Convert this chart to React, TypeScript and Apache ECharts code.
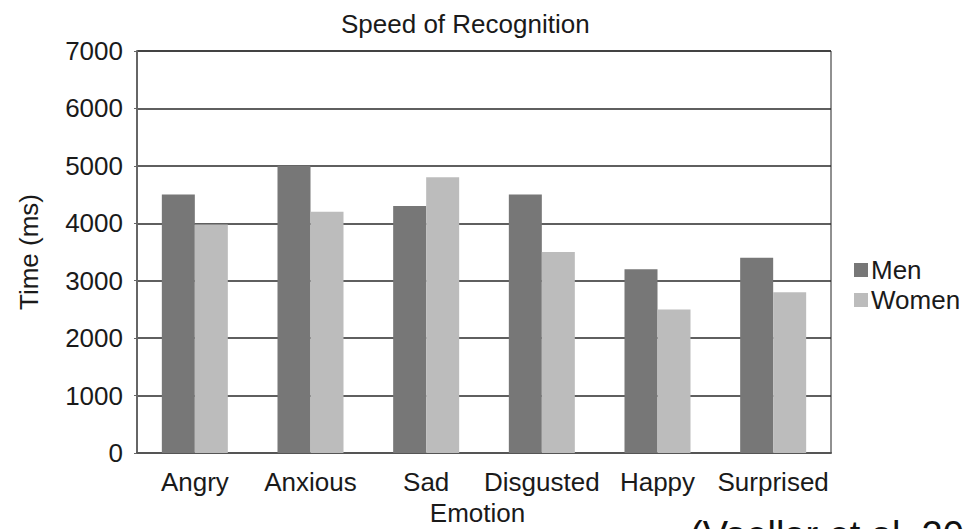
import React, { useEffect, useRef } from "react";
import * as echarts from "echarts";

const categories = ["Angry", "Anxious", "Sad", "Disgusted", "Happy", "Surprised"];
const menValues = [4500, 5000, 4300, 4500, 3200, 3400];
const womenValues = [3980, 4200, 4800, 3500, 2500, 2800];
const yTicks = [0, 1000, 2000, 3000, 4000, 5000, 6000, 7000];

const FONT = "'Liberation Sans', Arial, Helvetica, sans-serif";

export default function App() {
  const ref = useRef<HTMLDivElement>(null);
  useEffect(() => {
    if (!ref.current) return;
    const chart = echarts.init(ref.current, null, { renderer: "svg" });
    chart.setOption({
      animation: false,
      backgroundColor: "#ffffff",
      textStyle: { fontFamily: FONT },
      title: {
        text: "Speed of Recognition",
        left: 336,
        top: 6,
        textStyle: { fontFamily: FONT, fontSize: 26, fontWeight: "normal", color: "#1a1a1a" },
      },
      legend: {
        orient: "vertical",
        left: 849,
        top: 252,
        itemWidth: 14,
        itemHeight: 14,
        itemGap: 4,
        icon: "rect",
        textStyle: { fontFamily: FONT, fontSize: 26, color: "#1a1a1a", padding: [0, 0, 0, -2] },
        data: ["Men", "Women"],
      },
      grid: {
        left: 137,
        right: 966 - 831,
        top: 51,
        bottom: 529 - 453,
        outerBoundsMode: "none",
        containLabel: false,
        show: true,
        borderColor: "#222",
        borderWidth: 1,
        backgroundColor: "transparent",
      },
      xAxis: {
        type: "category",
        data: categories,
        axisLine: { lineStyle: { color: "#555", width: 2 } },
        axisTick: { show: false },
        axisLabel: { fontFamily: FONT, fontSize: 26, color: "#1a1a1a", margin: 16, interval: 0 },
        name: "Emotion",
        nameLocation: "middle",
        nameGap: 47,
        nameTextStyle: { fontFamily: FONT, fontSize: 26, color: "#1a1a1a", padding: [0, 13, 0, 0] },
      },
      yAxis: {
        type: "value",
        min: 0,
        max: 7000,
        interval: 1000,
        axisLine: { show: true, lineStyle: { color: "#666", width: 2 } },
        axisTick: { show: true, length: 3, lineStyle: { color: "#666" } },
        axisLabel: {
          fontFamily: FONT,
          fontSize: 26,
          color: "#1a1a1a",
          margin: 14,
          formatter: (v: number) => (yTicks.includes(v) ? String(v) : ""),
        },
        splitLine: { lineStyle: { color: "#2a2a2a", width: 1.5 } },
        name: "Time (ms)",
        nameLocation: "middle",
        nameGap: 95,
        nameTextStyle: { fontFamily: FONT, fontSize: 26, color: "#1a1a1a" },
      },
      series: [
        {
          name: "Men",
          type: "bar",
          data: menValues,
          barWidth: 33,
          barGap: "0%",
          itemStyle: { color: "#777777" },
        },
        {
          name: "Women",
          type: "bar",
          data: womenValues,
          barWidth: 33,
          barGap: "0%",
          itemStyle: { color: "#bcbcbc" },
        },
      ],
      graphic: [
        {
          type: "text",
          left: 690,
          top: 516,
          style: {
            text: "(Vaellar et al. 20",
            fontFamily: FONT,
            fontSize: 38,
            fill: "#111",
          },
        },
      ],
    });
    return () => chart.dispose();
  }, []);
  return <div ref={ref} style={{ width: 966, height: 529, position: "fixed", left: 0, top: 0 }} />;
}
